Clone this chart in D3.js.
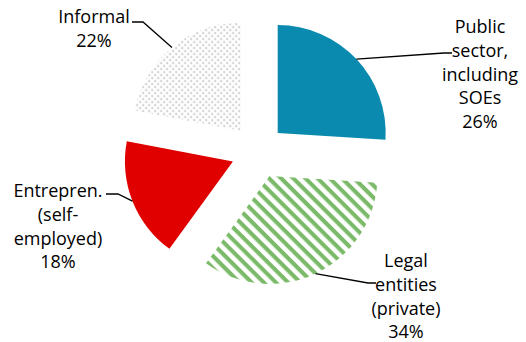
<!DOCTYPE html>
<html>
<head>
<meta charset="utf-8">
<script src="https://cdn.jsdelivr.net/npm/d3@7/dist/d3.min.js"></script>
<style>
  html, body { margin: 0; padding: 0; background: #fff; }
  svg { display: block; }
  text { font-family: "Open Sans", "Noto Sans", sans-serif; font-size: 18px; fill: #000; }
</style>
</head>
<body>
<svg id="chart" width="526" height="342"></svg>
<script>
// Employment structure by sector (shares, %)
const categories = ["Public sector, including SOEs", "Legal entities (private)", "Entrepren. (self-employed)", "Informal"];
const values = [26, 34, 18, 22];
const labelLines = [
  ["Public", "sector,", "including", "SOEs"],
  ["Legal", "entities", "(private)"],
  ["Entrepren.", "(self-", "employed)"],
  ["Informal"]
];

// Label block placement: centre x, first baseline, and leader elbow
const labelLayout = [
  { x: 480, y: 33, elbow: [[444, 53], [452, 53]] },
  { x: 406, y: 267, elbow: [[368, 283], [376, 283]] },
  { x: 58, y: 197, elbow: [[118, 194], [106, 194]] },
  { x: 94, y: 23, elbow: [[143, 22], [132, 22]] }
];

const fills = ["#0a8aae", "url(#stripes)", "#e00000", "url(#dots)"];

const cx = 258, cy = 151.5, R = 108, explode = 27, lineH = 23.8;

const svg = d3.select("#chart");
const defs = svg.append("defs");

// Diagonal green hatching
const sp = 8.6;
const stripes = defs.append("pattern")
  .attr("id", "stripes")
  .attr("patternUnits", "userSpaceOnUse")
  .attr("width", sp).attr("height", sp)
  .attr("patternTransform", "rotate(45)");
stripes.append("rect").attr("width", sp).attr("height", sp).attr("fill", "#fff");
stripes.append("rect").attr("width", sp).attr("height", 4.1).attr("fill", "#7aba68");

// Light grey dot screen
const dots = defs.append("pattern")
  .attr("id", "dots")
  .attr("patternUnits", "userSpaceOnUse")
  .attr("width", 6).attr("height", 6);
dots.append("rect").attr("width", 6).attr("height", 6).attr("fill", "#fff");
dots.append("rect").attr("x", 0.5).attr("y", 0.5).attr("width", 1.7).attr("height", 1.7).attr("fill", "#b8b8b8");
dots.append("rect").attr("x", 3.5).attr("y", 3.5).attr("width", 1.7).attr("height", 1.7).attr("fill", "#b8b8b8");

const pie = d3.pie().sort(null).value(d => d)(values);
const arc = d3.arc().innerRadius(0).outerRadius(R);
const rim = d3.arc().innerRadius(R).outerRadius(R);

const offset = d => {
  const mid = (d.startAngle + d.endAngle) / 2;
  return [Math.sin(mid) * explode, -Math.cos(mid) * explode];
};

const g = svg.append("g").attr("transform", `translate(${cx},${cy})`);

g.selectAll("path.slice")
  .data(pie)
  .join("path")
  .attr("class", "slice")
  .attr("transform", d => `translate(${offset(d)})`)
  .attr("d", arc)
  .attr("fill", (d, i) => fills[i]);

// Leader lines from each slice's outer rim to its label
pie.forEach((d, i) => {
  const [ox, oy] = offset(d);
  const c = rim.centroid(d);
  const pts = [[cx + ox + c[0], cy + oy + c[1]], ...labelLayout[i].elbow];
  svg.append("path")
    .attr("d", d3.line()(pts))
    .attr("fill", "none")
    .attr("stroke", "#000")
    .attr("stroke-width", 1.3);
});

// Category labels with percentages
pie.forEach((d, i) => {
  const L = labelLayout[i];
  const lines = [...labelLines[i], `${values[i]}%`];
  const t = svg.append("text")
    .attr("text-anchor", "middle")
    .attr("x", L.x).attr("y", L.y);
  lines.forEach((s, k) => {
    t.append("tspan").attr("x", L.x).attr("dy", k === 0 ? 0 : lineH).text(s);
  });
});
</script>
</body>
</html>
